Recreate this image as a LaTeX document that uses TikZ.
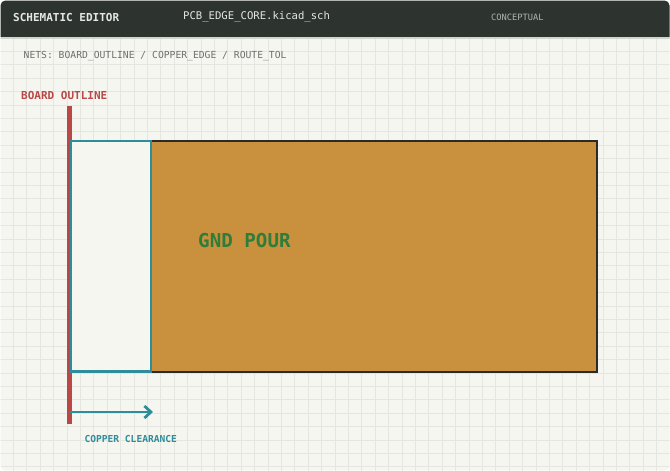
\documentclass[tikz,border=0pt]{standalone}
\usepackage{fontspec}
\setmonofont{DejaVu Sans Mono}
\usetikzlibrary{arrows.meta,positioning}

\definecolor{paper}{HTML}{F6F6F1}
\definecolor{gridln}{HTML}{E6E6E0}
\definecolor{hdrbg}{HTML}{2D332F}
\definecolor{hdrrule}{HTML}{D2D4CE}
\definecolor{hdrtxt}{HTML}{E4E8E4}
\definecolor{tagtxt}{HTML}{AEB4AF}
\definecolor{nettxt}{HTML}{6C706C}
\definecolor{outline}{HTML}{B94846}
\definecolor{clear}{HTML}{2F8D9B}
\definecolor{copper}{HTML}{C9913D}
\definecolor{pourln}{HTML}{2A2A28}
\definecolor{gnd}{HTML}{2F7D3B}

\tikzset{
  lbl/.style={font=\ttfamily, inner sep=0pt, anchor=west},
  hdrtitle/.style={lbl, font=\ttfamily\bfseries\fontsize{11}{13}\selectfont, text=hdrtxt},
  hdrfile/.style={lbl, font=\ttfamily\fontsize{10.6}{12}\selectfont, text=hdrtxt},
  hdrtag/.style={lbl, font=\ttfamily\fontsize{8.7}{10}\selectfont, text=tagtxt},
  netlbl/.style={lbl, font=\ttfamily\fontsize{9.7}{11}\selectfont, text=nettxt},
  pourbox/.style={draw=pourln, line width=2.5pt, fill=copper, inner sep=0pt, outer sep=0pt, anchor=north west},
  clearbox/.style={draw=clear, line width=2.4pt, fill=paper, inner sep=0pt, outer sep=0pt, anchor=north west},
  edgeline/.style={draw=outline, line width=4.5pt},
  cleararrow/.style={draw=clear, line width=2.8pt, -{Straight Barb[length=6.5pt,width=12pt]}}
}

\begin{document}
\begin{tikzpicture}[x=1pt,y=-1pt]
\useasboundingbox (0,0) rectangle (670,471);
\fill[white] (0,0) rectangle (670,471);

% sheet with grid
\begin{scope}
  \clip[rounded corners=5pt] (0.5,0.5) rectangle (669.5,470.5);
  \fill[paper] (0,0) rectangle (670,471);
  \foreach \x in {13.4,26.8,...,670} \draw[gridln, line width=0.8pt] (\x,38) -- (\x,471);
  \foreach \y in {51.4,64.8,...,471} \draw[gridln, line width=0.8pt] (0,\y) -- (670,\y);
  \fill[hdrbg] (0,0) rectangle (670,37);
  \draw[hdrrule, line width=1.5pt] (0,37.8) -- (670,37.8);
\end{scope}

% header
\node[hdrtitle] (title) at (13,17) {SCHEMATIC EDITOR};
\node[hdrfile] (file) at (183,17) {PCB\_EDGE\_CORE.kicad\_sch};
\node[hdrtag] (tag) at (491,17) {CONCEPTUAL};
\node[netlbl] (nets) at (23.5,56) {NETS: BOARD\_OUTLINE / COPPER\_EDGE / ROUTE\_TOL};

% board outline
\coordinate (edgetop) at (69.5,106);
\coordinate (edgebot) at (69.5,424);
\draw[edgeline] (edgetop) -- (edgebot);
\node[lbl, font=\ttfamily\bfseries\fontsize{11}{13}\selectfont, text=outline] (edgelbl) at (21,95) {BOARD OUTLINE};

% copper pour and clearance
\node[pourbox, minimum width=446pt, minimum height=231pt] (pour) at (151,141) {};
\node[clearbox, minimum width=80pt, minimum height=230.5pt] (keepout) at (71,141) {};
\node[lbl, font=\ttfamily\bfseries\fontsize{19.2}{21}\selectfont, text=gnd] (gndlbl) at (198,241) {GND POUR};

% clearance dimension
\coordinate (arrstart) at (70,412);
\coordinate (arrend) at (153,412);
\draw[cleararrow] (arrstart) -- (arrend);
\node[lbl, font=\ttfamily\bfseries\fontsize{9.6}{11}\selectfont, text=clear] (clearlbl) at (84.3,438.8) {COPPER CLEARANCE};
\end{tikzpicture}
\end{document}
